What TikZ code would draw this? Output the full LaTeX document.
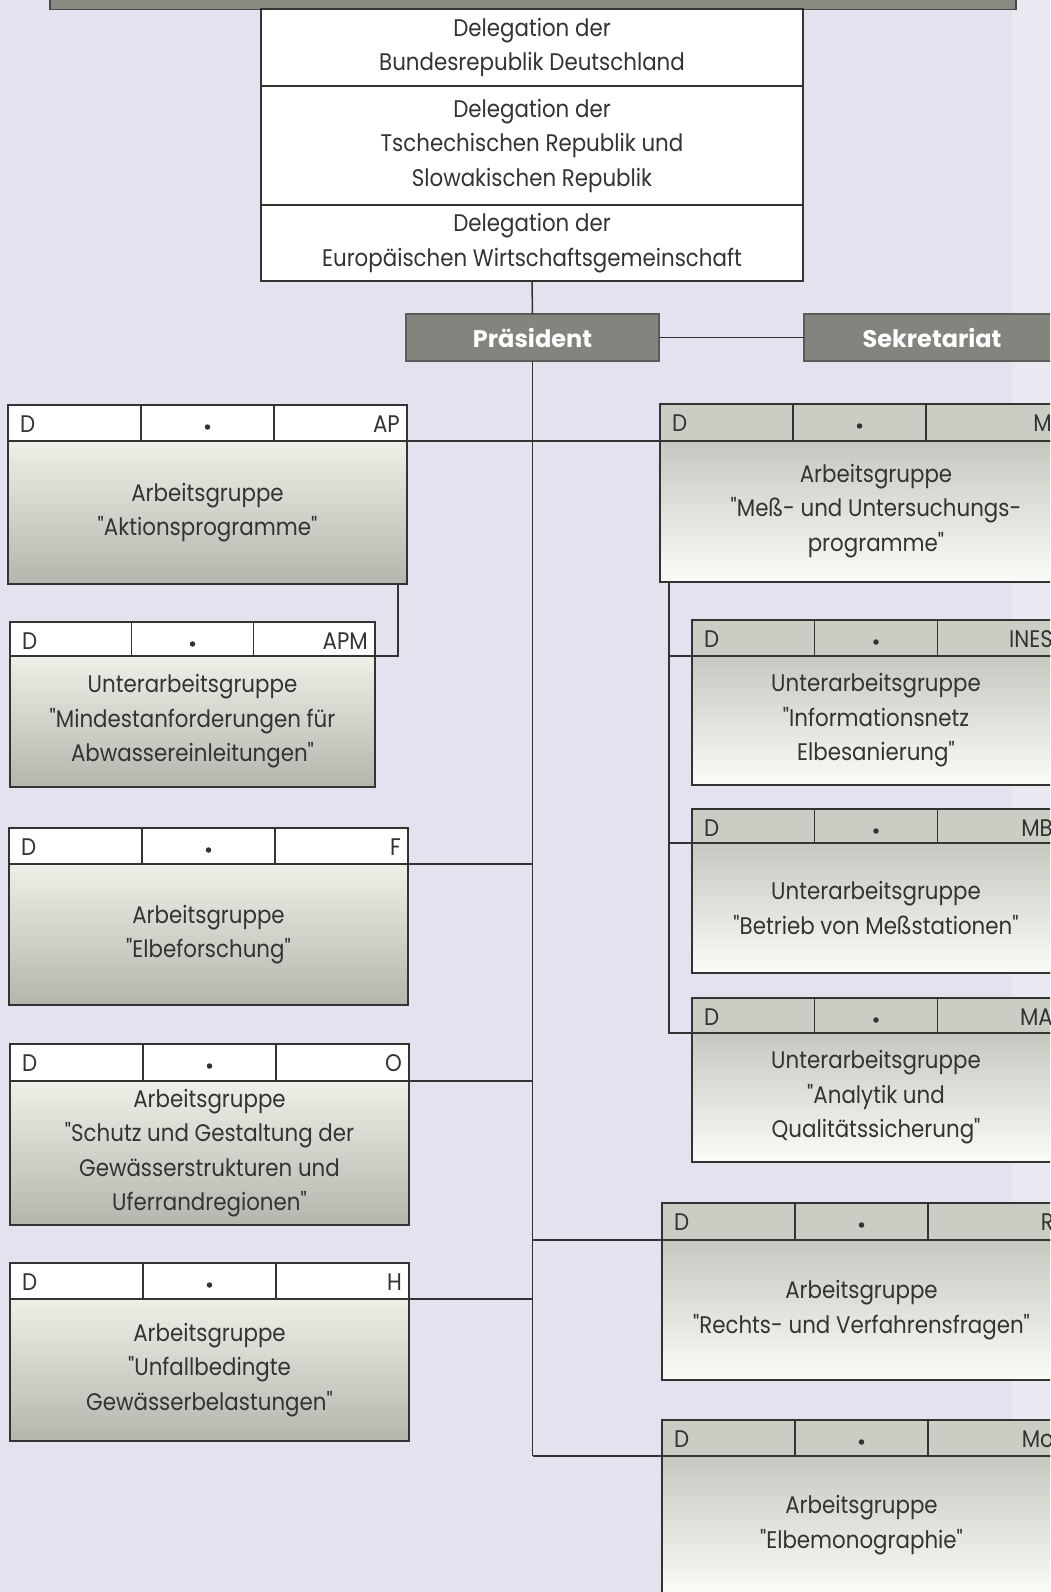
\documentclass[tikz,border=0pt]{standalone}
\usepackage{fontspec}
\setmainfont[FakeStretch=0.89,Ligatures=TeXOff]{Poppins}
\newfontfamily\orgbf[Ligatures=TeXOff]{Poppins}
\usetikzlibrary{calc}
\definecolor{bg}{HTML}{E6E1EE}
\definecolor{bgr}{HTML}{ECE8F2}
\definecolor{ink}{HTML}{333331}
\definecolor{barg}{HTML}{8A8A82}
\definecolor{presg}{HTML}{84847E}
\definecolor{lt}{HTML}{EEF0E8}
\definecolor{lb}{HTML}{B3B6AC}
\definecolor{rt}{HTML}{C6C8C0}
\definecolor{rb}{HTML}{FBFBF8}
\definecolor{rh}{HTML}{CBCDC5}
\newcommand\orgfont{\fontsize{24}{34.5}\selectfont}
\newcommand\orgbold{\orgbf\fontsize{24}{28}\selectfont\bfseries}
\tikzset{
  box/.style={draw=ink, line width=1.6pt, inner sep=0pt, outer sep=0pt, anchor=north west, align=center, text=ink, font=\orgfont},
  lbody/.style={box, top color=lt, bottom color=lb},
  rbody/.style={box, top color=rt, bottom color=rb},
  lhead/.style={box, fill=white},
  rhead/.style={box, fill=rh},
  dele/.style={box, fill=white, line width=2pt},
  conn/.style={draw=ink, line width=1.5pt},
  divider/.style={draw=ink, line width=1.5pt},
  hl/.style={text=ink, font=\orgfont, inner sep=0pt},
  hdot/.style={circle, fill=ink, inner sep=0pt, minimum size=5.5pt},
  bt/.style={text=ink, font=\orgfont, align=center, inner sep=0pt},
  chief/.style={draw=ink!80, line width=1.2pt, fill=presg, text=white, font=\orgbold, inner sep=0pt, outer sep=0pt, anchor=north west},
  bar/.style={draw=ink!90, line width=1.5pt, fill=barg, inner sep=0pt, anchor=north west}
}
% #1 name, #2 side, #3 left, #4 right, #5 top, #6 header bottom, #7 bottom, #8 label, #9 text
\newcommand\wgbox[9]{%
  \pgfmathsetmacro\wa{#3+(#4-#3)/3}%
  \pgfmathsetmacro\wb{#3+2*(#4-#3)/3}%
  \node[#2head, minimum width={#4-#3}, minimum height={#6-#5}] (#1h) at (#3,#5) {};
  \node[#2body, minimum width={#4-#3}, minimum height={#7-#6}] (#1) at (#3,#6) {#9};
  \draw[divider] (\wa,#5) -- (\wa,#6);
  \draw[divider] (\wb,#5) -- (\wb,#6);
  \node[hl, anchor=base west] (#1d) at (#3+12,#5+27) {D};
  \node[hl, anchor=base east] (#1l) at (#4-7,#5+27) {#8};
  \node[hdot] (#1p) at ({(\wa+\wb)/2},#5+22) {};
}
\begin{document}
\begin{tikzpicture}[x=1pt,y=-1pt]
\useasboundingbox (0,0) rectangle (1050,1592);
\clip (0,0) rectangle (1050,1592);
\fill[bg] (0,0) rectangle (1050,1592);
\fill[bgr] (1012,0) rectangle (1050,1592);

\node[bar, minimum width=966, minimum height=14] (topbar) at (49,-5) {};
\node[dele, minimum width=542, minimum height=77] (del1) at (261,9) {Delegation der\\Bundesrepublik Deutschland};
\node[dele, minimum width=542, minimum height=119] (del2) at (261,86) {Delegation der\\Tschechischen Republik und\\Slowakischen Republik};
\node[dele, minimum width=542, minimum height=76] (del3) at (261,205) {Delegation der\\Europäischen Wirtschaftsgemeinschaft};

\node[chief, minimum width=253, minimum height=47] (pres) at (406,314) {Präsident};
\node[chief, minimum width=256, minimum height=47] (sek) at (804,314) {Sekretariat};

\wgbox{ap}{l}{8}{407}{405}{441}{584}{AP}{Arbeitsgruppe\\"Aktionsprogramme"}
\wgbox{apm}{l}{10}{375}{622}{656}{787}{APM}{Unterarbeitsgruppe\\"Mindestanforderungen für\\Abwassereinleitungen"}
\wgbox{f}{l}{9}{408}{828}{864}{1005}{F}{Arbeitsgruppe\\"Elbeforschung"}
\wgbox{o}{l}{10}{409}{1044}{1081}{1225}{O}{Arbeitsgruppe\\"Schutz und Gestaltung der\\Gewässerstrukturen und\\Uferrandregionen"}
\wgbox{h}{l}{10}{409}{1263}{1299}{1441}{H}{Arbeitsgruppe\\"Unfallbedingte\\Gewässerbelastungen"}

\wgbox{m}{r}{660}{1059}{404}{441}{582}{M}{}
\node[bt] (mt) at (876,511) {Arbeitsgruppe\\"Meß- und Untersuchungs-\\programme"};
\wgbox{ines}{r}{692}{1060}{620}{656}{785}{INES}{Unterarbeitsgruppe\\"Informationsnetz\\Elbesanierung"}
\wgbox{mb}{r}{692}{1060}{809}{843}{973}{MB}{Unterarbeitsgruppe\\"Betrieb von Meßstationen"}
\wgbox{ma}{r}{692}{1060}{998}{1033}{1162}{MA}{Unterarbeitsgruppe\\"Analytik und\\Qualitätssicherung"}
\wgbox{rv}{r}{662}{1061}{1203}{1240}{1380}{R}{Arbeitsgruppe\\"Rechts- und Verfahrensfragen"}
\wgbox{mo}{r}{662}{1061}{1420}{1456}{1594}{Mo}{Arbeitsgruppe\\"Elbemonographie"}

% connectors
\draw[conn] (del3.south) -- (pres.north);
\draw[conn] (pres.east) -- (sek.west);
\coordinate (spend) at (pres.south |- mo.north west);
\draw[conn] (pres.south) -- (spend);
\foreach \b in {ap,f,o,h}{
  \draw[conn] (\b.north east) -- (\b.north east -| pres.south);
}
\foreach \b in {m,rv,mo}{
  \draw[conn] (\b.north west) -- (\b.north west -| pres.south);
}
\draw[conn] ([xshift=-9pt]ap.south east) |- (apm.north east);
\foreach \b in {ines,mb,ma}{
  \draw[conn] ([xshift=9pt]m.south west) |- (\b.north west);
}
\end{tikzpicture}
\end{document}
